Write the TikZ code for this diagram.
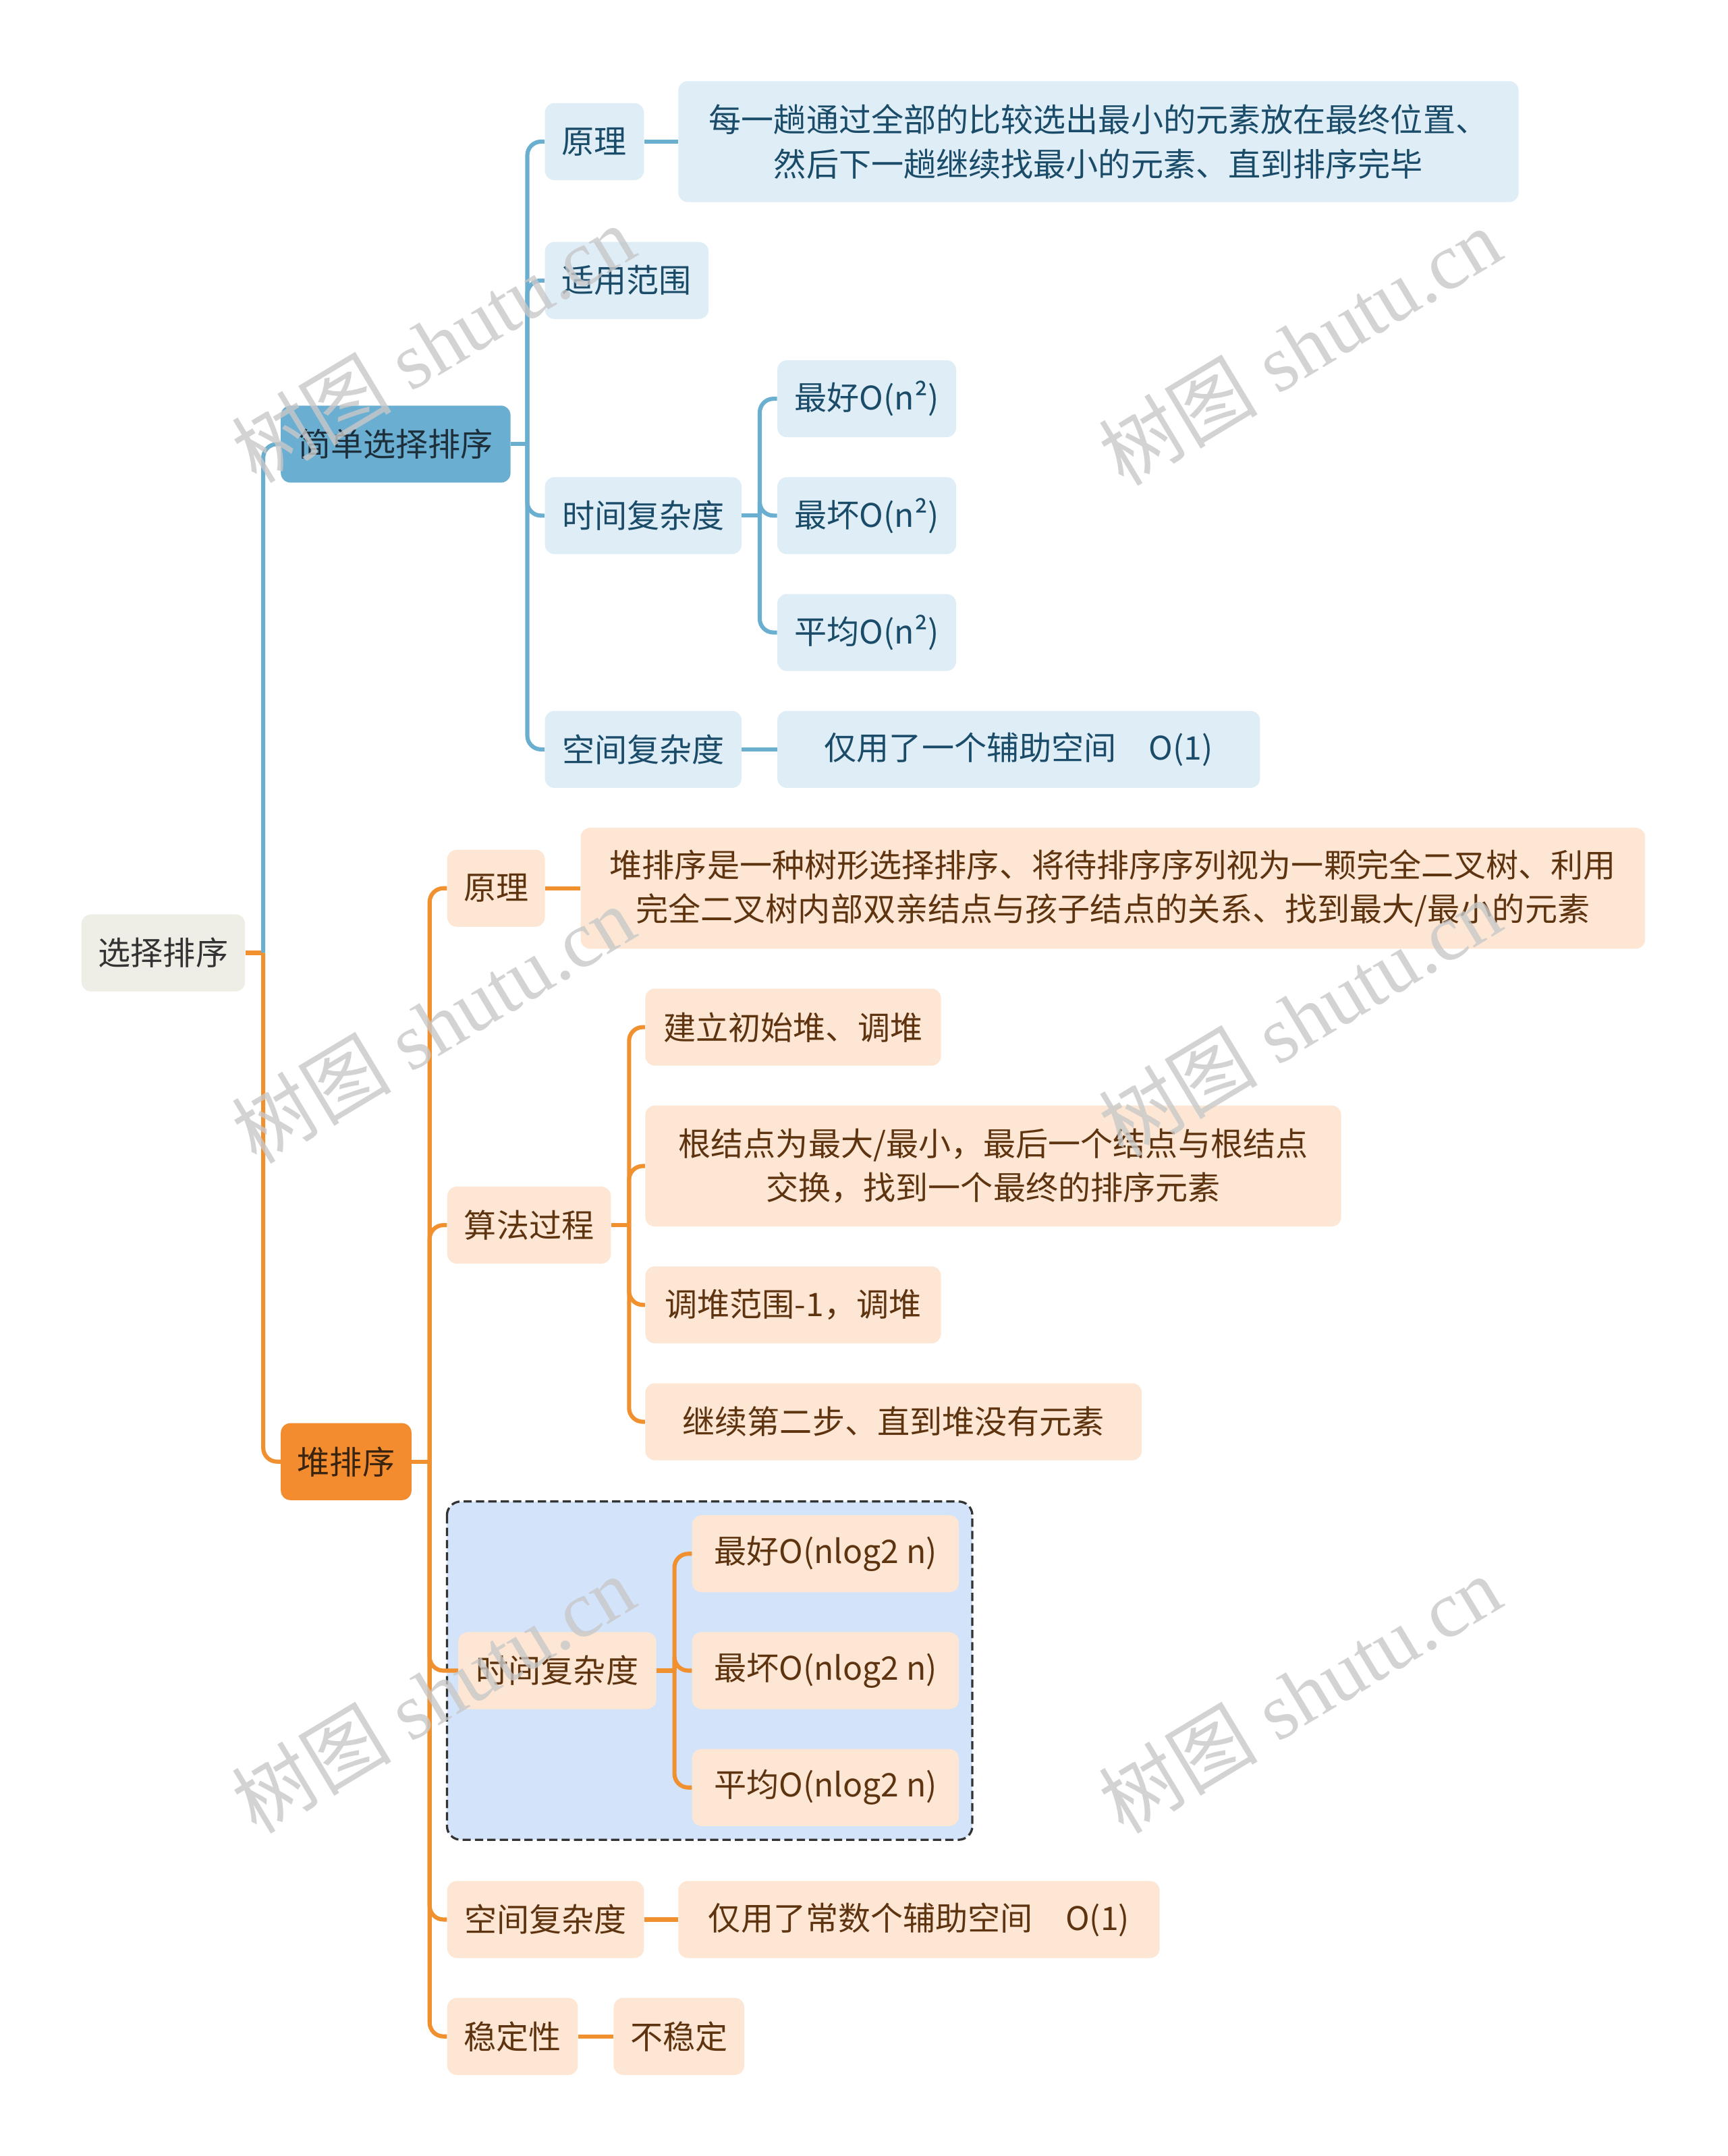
\documentclass[tikz,border=0pt]{standalone}
\usepackage{fontspec}
\setmainfont{Noto Sans CJK SC}
\newfontfamily\wmlatin{Liberation Serif}
\newfontfamily\wmcjk{Noto Sans CJK SC}
\usetikzlibrary{calc}
\definecolor{rootfill}{HTML}{EEEDE6}
\definecolor{roottext}{HTML}{333333}
\definecolor{bluemain}{HTML}{6AAED1}
\definecolor{bluemaintext}{HTML}{1E2F3C}
\definecolor{bluelight}{HTML}{DFEEF6}
\definecolor{bluetext}{HTML}{1A4B69}
\definecolor{blueline}{HTML}{6AAED0}
\definecolor{orangemain}{HTML}{F28C2E}
\definecolor{orangemaintext}{HTML}{3A2410}
\definecolor{peach}{HTML}{FDE6D3}
\definecolor{browntext}{HTML}{5E3410}
\definecolor{orangeline}{HTML}{F0902F}
\definecolor{groupfill}{HTML}{D3E3FA}
\definecolor{groupline}{HTML}{333333}
\definecolor{wmgray}{HTML}{C8C8C8}
\tikzset{
  box/.style={rounded corners=7pt, inner sep=0pt, anchor=west, minimum height=56pt,
              font=\fontsize{23.6}{32}\selectfont, align=center},
  rootbox/.style={box, fill=rootfill, text=roottext},
  bmain/.style={box, fill=bluemain, text=bluemaintext},
  bsub/.style={box, fill=bluelight, text=bluetext},
  omain/.style={box, fill=orangemain, text=orangemaintext},
  osub/.style={box, fill=peach, text=browntext},
  bline/.style={draw=blueline, line width=3pt, rounded corners=10pt},
  oline/.style={draw=orangeline, line width=3pt, rounded corners=10pt},
  groupbox/.style={draw=groupline, fill=groupfill, line width=1.6pt, dash pattern=on 6pt off 3pt, rounded corners=10pt},
  watermark/.style={text=wmgray, opacity=0.8, rotate=31, font=\fontsize{58}{58}\selectfont},
}
\begin{document}
\begin{tikzpicture}[x=1pt,y=-1pt]
\path[fill=white] (0,0) rectangle (1256,1568);
\useasboundingbox (0,0) rectangle (1256,1568);

% group box
\draw[groupbox] (325,1092) rectangle (707,1338);

% root and main branches
\node[rootbox, minimum width=119pt] (root) at (59,693) {选择排序};
\node[bmain, minimum width=167pt] (s1) at (204,323) {简单选择排序};
\node[omain, minimum width=95pt] (s2) at (204,1063) {堆排序};

% blue branch
\node[bsub, minimum width=72pt] (b1) at (396,103) {原理};
\node[bsub, minimum width=611pt, minimum height=88pt] (b1d) at (493,103) {每一趟通过全部的比较选出最小的元素放在最终位置、\\然后下一趟继续找最小的元素、直到排序完毕};
\node[bsub, minimum width=119pt] (b2) at (396,204) {适用范围};
\node[bsub, minimum width=143pt] (b3) at (396,375) {时间复杂度};
\node[bsub, minimum width=130pt] (b31) at (565,290) {最好O(n²)};
\node[bsub, minimum width=130pt] (b32) at (565,375) {最坏O(n²)};
\node[bsub, minimum width=130pt] (b33) at (565,460) {平均O(n²)};
\node[bsub, minimum width=143pt] (b4) at (396,545) {空间复杂度};
\node[bsub, minimum width=351pt] (b4d) at (565,545) {仅用了一个辅助空间　O(1)};

% orange branch
\node[osub, minimum width=71pt] (o1) at (325,646) {原理};
\node[osub, minimum width=774pt, minimum height=88pt] (o1d) at (422,646) {堆排序是一种树形选择排序、将待排序序列视为一颗完全二叉树、利用\\完全二叉树内部双亲结点与孩子结点的关系、找到最大/最小的元素};
\node[osub, minimum width=119pt] (o2) at (325,891) {算法过程};
\node[osub, minimum width=215pt] (o21) at (469,747) {建立初始堆、调堆};
\node[osub, minimum width=506pt, minimum height=88pt] (o22) at (469,848) {根结点为最大/最小，最后一个结点与根结点\\交换，找到一个最终的排序元素};
\node[osub, minimum width=215pt] (o23) at (469,949) {调堆范围-1，调堆};
\node[osub, minimum width=361pt] (o24) at (469,1034) {继续第二步、直到堆没有元素};
\node[osub, minimum width=144pt] (o3) at (333,1215) {时间复杂度};
\node[osub, minimum width=194pt] (o31) at (503,1130) {最好O(nlog2 n)};
\node[osub, minimum width=194pt] (o32) at (503,1215) {最坏O(nlog2 n)};
\node[osub, minimum width=194pt] (o33) at (503,1300) {平均O(nlog2 n)};
\node[osub, minimum width=143pt] (o4) at (325,1396) {空间复杂度};
\node[osub, minimum width=350pt] (o4d) at (493,1396) {仅用了常数个辅助空间　O(1)};
\node[osub, minimum width=95pt] (o5) at (325,1481) {稳定性};
\node[osub, minimum width=95pt] (o5d) at (446,1481) {不稳定};

% junction points
\coordinate (jr) at ($(root.east)+(13,0)$);
\coordinate (j1) at ($(s1.east)+(12,0)$);
\coordinate (j13) at ($(b3.east)+(13,0)$);
\coordinate (j2) at ($(s2.east)+(13,0)$);
\coordinate (j22) at ($(o2.east)+(13,0)$);
\coordinate (j23) at ($(o3.east)+(13,0)$);

% root connectors
\draw[oline] (root.east) -- (jr);
\draw[bline] (jr) |- (s1.west);
\draw[oline] (jr) |- (s2.west);

% blue connectors
\draw[bline] (s1.east) -- (j1);
\draw[bline] (j1) |- (b1.west);
\draw[bline] (j1) |- (b2.west);
\draw[bline] (j1) |- (b3.west);
\draw[bline] (j1) |- (b4.west);
\draw[bline] (b1.east) -- (b1d.west);
\draw[bline] (b3.east) -- (j13);
\draw[bline] (j13) |- (b31.west);
\draw[bline] (j13) |- (b32.west);
\draw[bline] (j13) |- (b33.west);
\draw[bline] (b4.east) -- (b4d.west);

% orange connectors
\draw[oline] (s2.east) -- (j2);
\draw[oline] (j2) |- (o1.west);
\draw[oline] (j2) |- (o2.west);
\draw[oline] (j2) |- (o3.west);
\draw[oline] (j2) |- (o4.west);
\draw[oline] (j2) |- (o5.west);
\draw[oline] (o1.east) -- (o1d.west);
\draw[oline] (o2.east) -- (j22);
\draw[oline] (j22) |- (o21.west);
\draw[oline] (j22) |- (o22.west);
\draw[oline] (j22) |- (o23.west);
\draw[oline] (j22) |- (o24.west);
\draw[oline] (o3.east) -- (j23);
\draw[oline] (j23) |- (o31.west);
\draw[oline] (j23) |- (o32.west);
\draw[oline] (j23) |- (o33.west);
\draw[oline] (o4.east) -- (o4d.west);
\draw[oline] (o5.east) -- (o5d.west);

% watermarks
\node[watermark] (w1) at (315,250) {\wmcjk 树图\wmlatin{} shutu.cn};
\node[watermark] (w2) at (945,252) {\wmcjk 树图\wmlatin{} shutu.cn};
\node[watermark] (w3) at (315,745) {\wmcjk 树图\wmlatin{} shutu.cn};
\node[watermark] (w4) at (945,740) {\wmcjk 树图\wmlatin{} shutu.cn};
\node[watermark] (w5) at (315,1232) {\wmcjk 树图\wmlatin{} shutu.cn};
\node[watermark] (w6) at (945,1232) {\wmcjk 树图\wmlatin{} shutu.cn};
\end{tikzpicture}
\end{document}
